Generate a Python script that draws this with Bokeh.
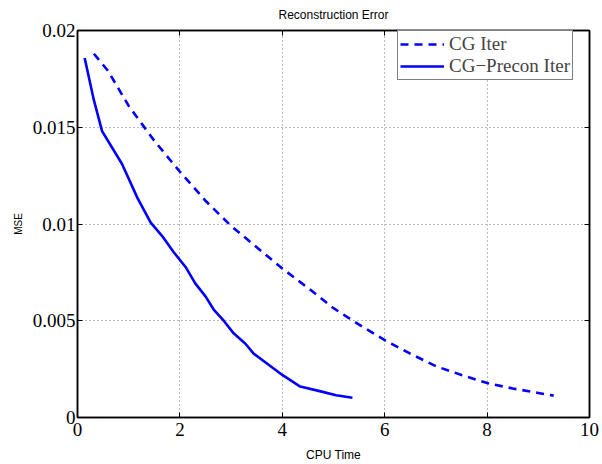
import numpy as np
from bokeh.plotting import figure
from bokeh.models import (Range1d, FixedTicker, LinearAxis, Legend, LegendItem)
from bokeh.embed import file_html
from bokeh.resources import INLINE

# Data
cg_time = [0.32, 0.6, 1.0, 1.5, 2.0, 2.5, 3.0, 3.5, 4.0, 4.5, 5.0, 5.5, 6.0, 6.5, 7.0, 7.5, 8.0, 8.5, 9.0, 9.3]
cg_mse = [0.0188, 0.0179, 0.0161, 0.0143, 0.0127, 0.0112, 0.0099, 0.0088, 0.0077, 0.0067, 0.00565, 0.0048,
          0.0040, 0.0033, 0.00265, 0.0022, 0.00178, 0.0015, 0.00127, 0.00113]

pc_time = [0.14, 0.32, 0.48, 0.87, 1.17, 1.43, 1.65, 1.88, 2.11, 2.30, 2.50, 2.66, 2.86, 3.05, 3.28, 3.44,
           3.70, 4.0, 4.35, 4.75, 5.05, 5.37]
pc_mse = [0.01858, 0.0164, 0.0148, 0.0131, 0.01135, 0.01007, 0.00939, 0.00854, 0.00778, 0.00693, 0.00626,
          0.00558, 0.00499, 0.00435, 0.00381, 0.0033, 0.00279, 0.0022, 0.0016, 0.00135, 0.00115, 0.00102]

x_ticks = [0, 2, 4, 6, 8, 10]
x_tick_labels = ["0", "2", "4", "6", "8", "10"]
y_ticks = [0, 0.005, 0.01, 0.015, 0.02]
y_tick_labels = ["0", "0.005", "0.01", "0.015", "0.02"]

series_names = ["CG Iter", "CG\u2212Precon Iter"]
title_text = "Reconstruction Error"
x_label = "CPU Time"
y_label = "MSE"

BLUE = "#0000ff"
SERIF = "Liberation Serif"
SANS = "Liberation Sans"

p = figure(width=602, height=464, output_backend="svg", toolbar_location=None,
           x_range=Range1d(0, 10), y_range=Range1d(0, 0.02),
           min_border_left=77, min_border_right=13, min_border_top=29, min_border_bottom=41,
           x_axis_location=None, y_axis_location=None, title=title_text)
p.background_fill_color = "white"
p.border_fill_color = "white"
p.outline_line_color = "black"
p.outline_line_width = 1.5

p.title.align = "center"
p.title.text_font = SANS
p.title.text_font_size = "12px"
p.title.text_font_style = "normal"
p.title.text_color = "black"
p.title.standoff = 14
p.title.vertical_align = "top"


def style_axis(ax, ticks, labels, show):
    ax.ticker = FixedTicker(ticks=ticks)
    ax.axis_line_color = "black"
    ax.axis_line_width = 1.5
    ax.major_tick_in = 5
    ax.major_tick_out = 0
    ax.major_tick_line_color = "black"
    ax.minor_tick_line_color = None
    if show:
        ax.major_label_overrides = {t: l for t, l in zip(ticks, labels)}
        ax.major_label_text_font = SERIF
        ax.major_label_text_font_size = "19px"
        ax.major_label_text_color = "black"
        ax.axis_label_text_font = SANS
        ax.axis_label_text_font_style = "normal"
        ax.axis_label_text_color = "black"
    else:
        ax.major_label_overrides = {t: "" for t in ticks}
        ax.major_label_text_font_size = "0px"
        ax.major_label_standoff = 0


xb = LinearAxis(axis_label=x_label)
style_axis(xb, x_ticks, x_tick_labels, True)
xb.major_label_standoff = 5
xb.axis_label_standoff = 9
xb.axis_label_text_font_size = "12px"
p.add_layout(xb, "below")
yl = LinearAxis(axis_label=y_label)
style_axis(yl, y_ticks, y_tick_labels, True)
yl.major_label_standoff = 2
yl.axis_label_standoff = 6
yl.axis_label_text_font_size = "10px"
p.add_layout(yl, "left")
xt = LinearAxis()
style_axis(xt, x_ticks, x_tick_labels, False)
p.add_layout(xt, "above")
yr = LinearAxis()
style_axis(yr, y_ticks, y_tick_labels, False)
p.add_layout(yr, "right")

p.xgrid.ticker = FixedTicker(ticks=x_ticks)
p.ygrid.ticker = FixedTicker(ticks=y_ticks)
p.grid.grid_line_color = "#777777"
p.grid.grid_line_dash = "1 3"
p.grid.grid_line_width = 1

r1 = p.line(cg_time, cg_mse, line_color=BLUE, line_width=2.6, line_dash="8 6")
r2 = p.line(pc_time, pc_mse, line_color=BLUE, line_width=2.6)

legend = Legend(items=[LegendItem(label=series_names[0], renderers=[r1]),
                       LegendItem(label=series_names[1], renderers=[r2])],
                location=(320, 337), padding=2, spacing=0, label_height=20, glyph_height=20,
                glyph_width=44, label_standoff=5, margin=0,
                label_text_font=SERIF, label_text_font_size="19px",
                border_line_color="black", border_line_width=1.2,
                background_fill_color="white", background_fill_alpha=1.0)
p.add_layout(legend, "center")

open("out.html", "w").write(file_html(p, INLINE))
